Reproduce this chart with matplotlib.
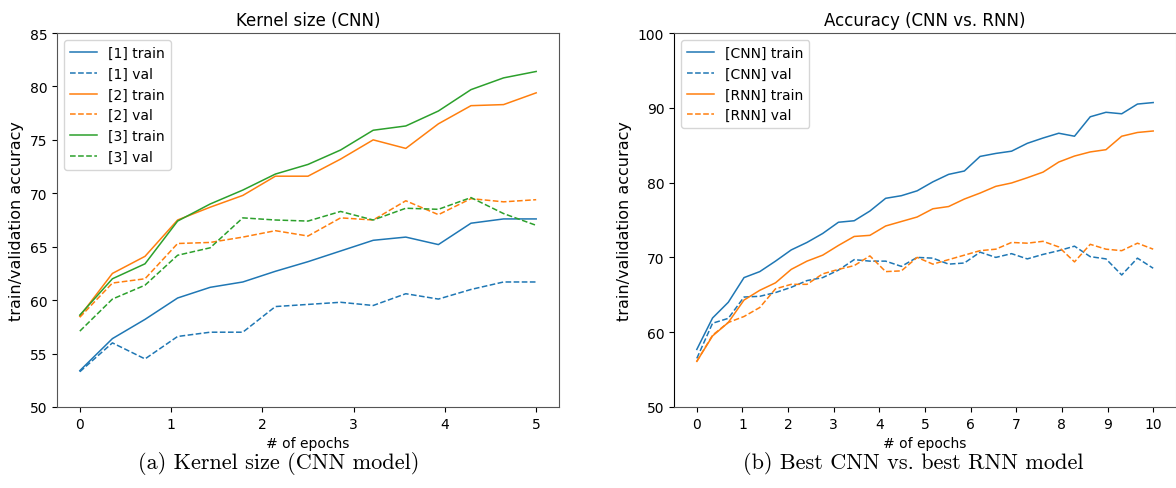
import numpy as np
import matplotlib
matplotlib.use("Agg")
import matplotlib.pyplot as plt

# ---- data: left panel (kernel size, CNN), 15 points over 5 epochs ----
k1_train = [53.4, 56.4, 58.2, 60.2, 61.2, 61.7, 62.7, 63.6, 64.6, 65.6, 65.9, 65.2, 67.2, 67.6, 67.6]
k1_val   = [53.3, 56.0, 54.5, 56.6, 57.0, 57.0, 59.4, 59.6, 59.8, 59.5, 60.6, 60.1, 61.0, 61.7, 61.7]
k2_train = [58.5, 62.5, 64.1, 67.5, 68.7, 69.8, 71.6, 71.6, 73.2, 75.0, 74.2, 76.5, 78.2, 78.3, 79.4]
k2_val   = [58.4, 61.6, 62.0, 65.3, 65.4, 65.9, 66.5, 66.0, 67.7, 67.5, 69.3, 68.0, 69.5, 69.2, 69.4]
k3_train = [58.6, 62.0, 63.4, 67.4, 69.0, 70.3, 71.8, 72.7, 74.05, 75.9, 76.3, 77.7, 79.7, 80.8, 81.4]
k3_val   = [57.1, 60.1, 61.4, 64.2, 64.9, 67.7, 67.5, 67.4, 68.3, 67.5, 68.6, 68.5, 69.6, 68.1, 67.0]

# ---- data: right panel (CNN vs RNN), 30 points over 10 epochs ----
cnn_train = [57.7, 61.9, 64.0, 67.3, 68.1, 69.5, 71.0, 72.0, 73.2, 74.7, 74.9, 76.2,
             77.9, 78.25, 78.9, 80.1, 81.1, 81.55, 83.5, 83.9, 84.2, 85.25, 85.96, 86.6,
             86.2, 88.8, 89.4, 89.2, 90.5, 90.7]
cnn_val = [56.5, 61.2, 61.85, 64.7, 64.8, 65.3, 66.0, 66.9, 67.3, 68.3, 69.7, 69.5,
           69.5, 68.8, 70.0, 69.9, 69.1, 69.25, 70.7, 70.0, 70.5, 69.8, 70.4, 70.9,
           71.5, 70.1, 69.8, 67.65, 69.9, 68.55]
rnn_train = [56.1, 59.5, 61.3, 64.3, 65.6, 66.6, 68.4, 69.5, 70.3, 71.6, 72.8, 72.95,
             74.2, 74.8, 75.4, 76.5, 76.8, 77.8, 78.6, 79.5, 79.95, 80.65, 81.4, 82.75,
             83.55, 84.1, 84.4, 86.2, 86.7, 86.9]
rnn_val = [56.1, 59.6, 61.3, 62.1, 63.3, 65.8, 66.4, 66.4, 67.8, 68.4, 68.9, 70.2,
           68.1, 68.2, 70.0, 69.1, 69.7, 70.3, 70.9, 71.1, 72.0, 71.9, 72.15, 71.4,
           69.4, 71.75, 71.1, 70.9, 71.9, 71.1]

left_epochs = np.linspace(0, 5, len(k1_train))
right_epochs = np.linspace(0, 10, len(cnn_train))

C_BLUE = "#1f77b4"
C_ORANGE = "#ff7f0e"
C_GREEN = "#2ca02c"

fig = plt.figure(figsize=(11.76, 4.89), dpi=100)
W, H = 1176.0, 489.0
ax1 = fig.add_axes([57 / W, 1 - 408 / H, (559 - 57) / W, (408 - 34) / H])
ax2 = fig.add_axes([674 / W, 1 - 408 / H, (1176 - 674) / W, (408 - 34) / H])

lw = 1.1
ax1.plot(left_epochs, k1_train, color=C_BLUE, lw=lw, label="[1] train")
ax1.plot(left_epochs, k1_val, color=C_BLUE, lw=lw, ls="--", label="[1] val")
ax1.plot(left_epochs, k2_train, color=C_ORANGE, lw=lw, label="[2] train")
ax1.plot(left_epochs, k2_val, color=C_ORANGE, lw=lw, ls="--", label="[2] val")
ax1.plot(left_epochs, k3_train, color=C_GREEN, lw=lw, label="[3] train")
ax1.plot(left_epochs, k3_val, color=C_GREEN, lw=lw, ls="--", label="[3] val")
ax1.set_ylim(50, 85)
ax1.set_xticks([0, 1, 2, 3, 4, 5])
ax1.set_yticks([50, 55, 60, 65, 70, 75, 80, 85])
ax1.set_title("Kernel size (CNN)", fontsize=12)

ax2.plot(right_epochs, cnn_train, color=C_BLUE, lw=lw, label="[CNN] train")
ax2.plot(right_epochs, cnn_val, color=C_BLUE, lw=lw, ls="--", label="[CNN] val")
ax2.plot(right_epochs, rnn_train, color=C_ORANGE, lw=lw, label="[RNN] train")
ax2.plot(right_epochs, rnn_val, color=C_ORANGE, lw=lw, ls="--", label="[RNN] val")
ax2.set_ylim(50, 100)
ax2.set_xticks(list(range(11)))
ax2.set_yticks([50, 60, 70, 80, 90, 100])
ax2.set_title("Accuracy (CNN vs. RNN)", fontsize=12)

for ax in (ax1, ax2):
    ax.set_xlabel("# of epochs", fontsize=10)
    ax.set_ylabel("train/validation accuracy", fontsize=11.5)
    ax.tick_params(labelsize=10)
    ax.legend(loc="upper left", fontsize=10)
    for s in ax.spines.values():
        s.set_color("#555555")
ax2.spines["left"].set_color("black")
ax2.spines["right"].set_color("#cccccc")

fig.text(279 / W, 1 - 464 / H, "(a) Kernel size (CNN model)", family="cmr10",
         fontsize=16, ha="center", va="center")
fig.text(913 / W, 1 - 464 / H, "(b) Best CNN vs. best RNN model", family="cmr10",
         fontsize=16, ha="center", va="center")

fig.savefig("out.png", dpi=100)
